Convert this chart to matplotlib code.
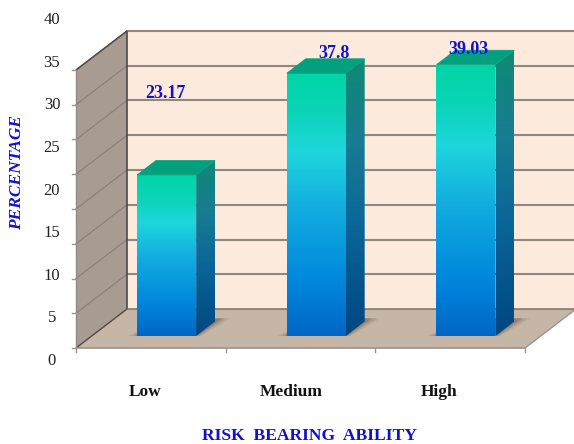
import matplotlib
matplotlib.use("Agg")
import matplotlib.pyplot as plt
import numpy as np
from matplotlib.colors import LinearSegmentedColormap
from matplotlib.patches import Polygon

categories = ["Low", "Medium", "High"]
values = [23.17, 37.8, 39.03]
value_labels = ["23.17", "37.8", "39.03"]
y_ticks = [0, 5, 10, 15, 20, 25, 30, 35, 40]

W, H = 574, 444
SERIF = "Liberation Serif"
BLUE = "#1212cc"

# scale of the box: pixels per category and per percent, and depth offset
X0, Y0 = 76, 348
PX_CAT = 149.67
PX_VAL = 6.95
DEPTH_X, DEPTH_Y = 51, 39

front_cmap = LinearSegmentedColormap.from_list(
    "front", [(0, "#00d6a6"), (0.14, "#0ad4b6"), (0.3, "#1ed6dc"),
              (0.52, "#12ace0"), (0.8, "#0086dc"), (1, "#0066c6")])
side_cmap = LinearSegmentedColormap.from_list(
    "side", [(0, "#0f8a74"), (0.3, "#187c92"), (0.6, "#0a6698"), (1, "#004682")])

fig = plt.figure(figsize=(W / 100, H / 100), dpi=100)
ax = fig.add_axes([0, 0, 1, 1])
xlim = (-X0 / PX_CAT, (W - X0) / PX_CAT)
ylim = ((Y0 - H) / PX_VAL, Y0 / PX_VAL)
ax.axis("off")


def pt(c, v, d=0.0):
    # category units, percent and depth (0 front, 1 back) to data coordinates
    return c + d * DEPTH_X / PX_CAT, v + d * DEPTH_Y / PX_VAL


def poly(points, **kw):
    p = Polygon([pt(*q) for q in points], closed=True, **kw)
    ax.add_patch(p)
    return p


def gradient_face(points, cmap, vmin, vmax, zorder):
    clip = poly(points, fc="none", ec="none", zorder=zorder)
    xs = [pt(*q)[0] for q in points]
    grad = np.linspace(0, 1, 256).reshape(-1, 1)
    im = ax.imshow(grad, cmap=cmap, aspect="auto", origin="upper", zorder=zorder,
                   extent=(min(xs), max(xs), vmin, vmax))
    im.set_clip_path(clip)


nc = len(categories)

# back wall, side wall and floor
poly([(0, 0, 1), (nc, 0, 1), (nc, 40, 1), (0, 40, 1)], fc="#fcebdc", ec="none", zorder=1)
poly([(0, 0, 0), (0, 0, 1), (0, 40, 1), (0, 40, 0)], fc="#a89c92", ec="none", zorder=1)
poly([(0, 0, 0), (nc, 0, 0), (nc, 0, 1), (0, 0, 1)], fc="#c5b6a8", ec="none", zorder=1)

for t in y_ticks[1:]:
    x, y = zip(pt(0, t, 0), pt(0, t, 1), pt(nc, t, 1))
    ax.plot(x[:2], y[:2], color="#8a817a", lw=0.9, zorder=2)
    ax.plot(x[1:], y[1:], color="#8f8780", lw=1.5, zorder=2)

# box edges
edge = "#4f4a46"
for a, b, c_, lw in [((0, 0, 1), (0, 40, 1), edge, 1.2),
                     ((0, 40, 0), (0, 40, 1), edge, 1.1),
                     ((0, 0, 0), (0, 0, 1), edge, 1.0),
                     ((0, 0, 1), (nc, 0, 1), "#7d7268", 1.1),
                     ((0, 0, 0), (nc, 0, 0), "#9a948e", 1.2),
                     ((nc, 0, 0), (nc, 0, 1), "#9a948e", 1.0),
                     ((0, 0, 0), (0, 40, 0), "#8f8a85", 1.0)]:
    xa, ya = pt(*a)
    xb, yb = pt(*b)
    ax.plot([xa, xb], [ya, yb], color=c_, lw=lw, zorder=3, solid_capstyle="butt")

# tick marks on the front edges
for t in y_ticks:
    ax.plot([-4 / PX_CAT, 0], [t, t], color="#9a948e", lw=1.0, zorder=3)
for i in range(nc + 1):
    ax.plot([i, i], [0, -4 / PX_VAL], color="#9a948e", lw=1.0, zorder=3)

# bars sit a little way into the box
BAR_D0, BAR_D1 = 0.31, 0.68
HALF = 29.5 / PX_CAT
for i, v in enumerate(values):
    c = i + 0.5
    l, r = c - HALF, c + HALF
    # soft shadow on the floor
    for grow, alpha in [(10, 0.12), (7, 0.18), (4, 0.25), (2, 0.3)]:
        g = grow / PX_CAT
        poly([(l - g, 0, BAR_D0), (r + g / 2, 0, BAR_D0),
              (r + g * 1.2, 0, BAR_D1 + 0.08), (l + 0.05, 0, BAR_D1 + 0.08)],
             fc="#6e5f50", ec="none", alpha=alpha, zorder=4)

    y_low = pt(l, 0, BAR_D0)[1]
    y_top = pt(l, v, BAR_D0)[1]
    gradient_face([(l, 0, BAR_D0), (r, 0, BAR_D0), (r, v, BAR_D0), (l, v, BAR_D0)],
                  front_cmap, y_low, y_top, 5)
    side_top = pt(r, v, BAR_D1)[1]
    gradient_face([(r, 0, BAR_D0), (r, 0, BAR_D1), (r, v, BAR_D1), (r, v, BAR_D0)],
                  side_cmap, y_low, side_top, 5)
    poly([(l, v, BAR_D0), (r, v, BAR_D0), (r, v, BAR_D1), (l, v, BAR_D1)],
         fc="#03a080", ec="#03a080", lw=0.5, zorder=5)

ax.set_xlim(*xlim)
ax.set_ylim(*ylim)


def px_text(x, y, s, **kw):
    fig.text(x / W, 1 - y / H, s, ha="center", va="center", family=SERIF, **kw)


# axis numbers stand on their own wider pitch
for k, t in enumerate(y_ticks):
    px_text(52, 361 - k * 42.6, str(t), fontsize=12, color="#222222")

for x, name in zip([145, 291, 439], categories):
    px_text(x, 392, name, fontsize=12.5, fontweight="bold", color="#111111")

for (x, y), s in zip([(165, 93), (334, 54), (468, 50)], value_labels):
    px_text(x, y, s, fontsize=13, fontweight="bold", color=BLUE, zorder=10)

px_text(310, 436, "RISK  BEARING  ABILITY", fontsize=12.6, fontweight="bold", color=BLUE)
px_text(17, 172, "PERCENTAGE", fontsize=12.5, fontweight="bold", fontstyle="italic",
        color=BLUE, rotation=90)

fig.savefig("out.png", dpi=100)
plt.close(fig)
